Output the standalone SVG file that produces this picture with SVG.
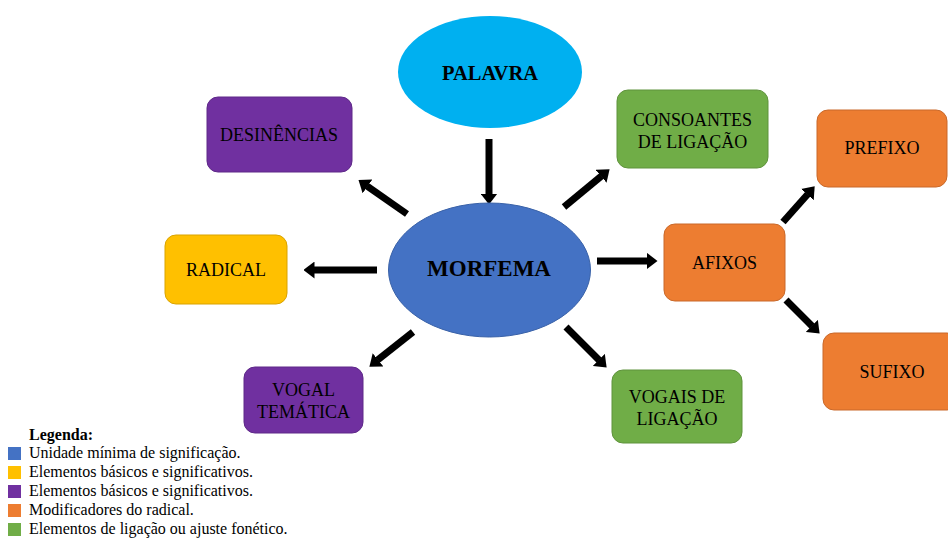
<svg xmlns="http://www.w3.org/2000/svg" width="948" height="539" viewBox="0 0 948 539">
<style>
text{font-family:"Liberation Serif","Times New Roman",serif;fill:#000}
.lbl{font-size:18px;text-anchor:middle}
.big{font-weight:bold;text-anchor:middle}
.leg{font-size:16px}
.purple{fill:#7030A0;stroke:#5E2888;stroke-width:1}
.yellow{fill:#FFC000;stroke:#D9A300;stroke-width:1}
.orange{fill:#ED7D31;stroke:#C9692A;stroke-width:1}
.green{fill:#70AD47;stroke:#5F933C;stroke-width:1}
.arrow{stroke:#000;stroke-width:7;fill:none;marker-end:url(#ah)}
</style>
<defs>
<marker id="ah" markerUnits="userSpaceOnUse" viewBox="0 0 11 17" markerWidth="11" markerHeight="17" refX="0.5" refY="8.5" orient="auto">
<path d="M0,0 L11,8.5 L0,17 Z" fill="#000"/>
</marker>
</defs>
<rect width="948" height="539" fill="#fff"/>
<g id="connectors">
<line class="arrow" x1="489" y1="139" x2="489" y2="194"/>
<line class="arrow" x1="407" y1="214" x2="367.1" y2="186.1"/>
<line class="arrow" x1="377" y1="270" x2="314" y2="270"/>
<line class="arrow" x1="413" y1="332" x2="377.6" y2="360.1"/>
<line class="arrow" x1="564" y1="207" x2="601.5" y2="176"/>
<line class="arrow" x1="597" y1="261" x2="647" y2="261"/>
<line class="arrow" x1="566" y1="327" x2="599.2" y2="360.2"/>
<line class="arrow" x1="783" y1="222" x2="807.7" y2="194.2"/>
<line class="arrow" x1="786" y1="300" x2="812.2" y2="326.2"/>
</g>
<g id="palavra">
<ellipse cx="490" cy="72" rx="92" ry="56" fill="#00B0F0"/>
<text class="big" x="490" y="80" font-size="20.5">PALAVRA</text>
</g>
<g id="morfema">
<ellipse cx="489.5" cy="270" rx="101" ry="67" fill="#4472C4" stroke="#3A62A8" stroke-width="1"/>
<text class="big" x="489" y="276" font-size="23">MORFEMA</text>
</g>
<g id="desinencias">
<rect class="purple" x="207" y="97" width="145" height="75" rx="11"/>
<text class="lbl" x="279" y="141">DESINÊNCIAS</text>
</g>
<g id="radical">
<rect class="yellow" x="165" y="235" width="122" height="69" rx="11"/>
<text class="lbl" x="226" y="276">RADICAL</text>
</g>
<g id="vogal-tematica">
<rect class="purple" x="244" y="367" width="119" height="66" rx="11"/>
<text class="lbl" x="303.5" y="396">VOGAL</text>
<text class="lbl" x="303.5" y="418">TEMÁTICA</text>
</g>
<g id="consoantes">
<rect class="green" x="617" y="90" width="151" height="78" rx="11"/>
<text class="lbl" x="692.5" y="126">CONSOANTES</text>
<text class="lbl" x="692.5" y="148">DE LIGAÇÃO</text>
</g>
<g id="afixos">
<rect class="orange" x="664" y="224" width="121" height="77" rx="11"/>
<text class="lbl" x="724.5" y="269">AFIXOS</text>
</g>
<g id="prefixo">
<rect class="orange" x="817" y="110" width="130" height="77" rx="11"/>
<text class="lbl" x="882" y="154">PREFIXO</text>
</g>
<g id="sufixo">
<rect class="orange" x="823" y="333" width="135" height="77" rx="11"/>
<text class="lbl" x="892" y="378">SUFIXO</text>
</g>
<g id="vogais-ligacao">
<rect class="green" x="612" y="370" width="130" height="73" rx="11"/>
<text class="lbl" x="677" y="403">VOGAIS DE</text>
<text class="lbl" x="677" y="425">LIGAÇÃO</text>
</g>
<g id="legenda">
<text class="leg" x="29" y="440" font-weight="bold">Legenda:</text>
<rect x="8" y="447" width="13" height="13" fill="#4472C4"/>
<text class="leg" x="29" y="458">Unidade mínima de significação.</text>
<rect x="8" y="466" width="13" height="13" fill="#FFC000"/>
<text class="leg" x="29" y="477">Elementos básicos e significativos.</text>
<rect x="8" y="485" width="13" height="13" fill="#7030A0"/>
<text class="leg" x="29" y="496">Elementos básicos e significativos.</text>
<rect x="8" y="504" width="13" height="13" fill="#ED7D31"/>
<text class="leg" x="29" y="515">Modificadores do radical.</text>
<rect x="8" y="523" width="13" height="13" fill="#70AD47"/>
<text class="leg" x="29" y="534">Elementos de ligação ou ajuste fonético.</text>
</g>
</svg>
